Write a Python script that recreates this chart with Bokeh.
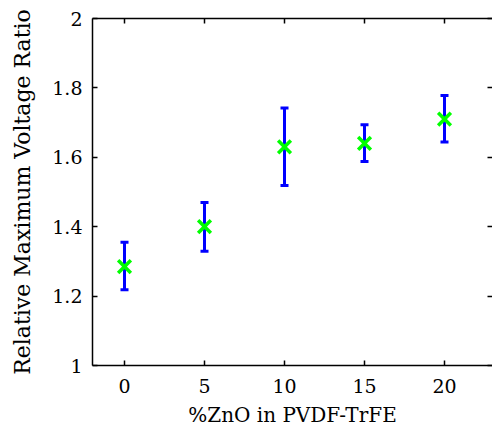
from bokeh.plotting import figure
from bokeh.models import ColumnDataSource, Whisker, TeeHead, LinearAxis, FixedTicker, Range1d
from bokeh.embed import file_html
from bokeh.resources import INLINE

# data
zno_pct = [0, 5, 10, 15, 20]
ratio = [1.285, 1.400, 1.630, 1.640, 1.710]
ratio_upper = [1.355, 1.470, 1.742, 1.694, 1.778]
ratio_lower = [1.218, 1.329, 1.519, 1.588, 1.644]
x_ticks = [0, 5, 10, 15, 20]
y_ticks = [1, 1.2, 1.4, 1.6, 1.8, 2]
y_tick_labels = {1: "1", 1.2: "1.2", 1.4: "1.4", 1.6: "1.6", 1.8: "1.8", 2: "2"}

FONT = "DejaVu Serif"

p = figure(width=492, height=429, output_backend="svg", toolbar_location=None,
           x_range=Range1d(-2, 23), y_range=Range1d(1, 2),
           min_border_left=92, min_border_right=0, min_border_top=18, min_border_bottom=64)
p.outline_line_color = None
p.grid.visible = False
p.background_fill_color = "white"
p.border_fill_color = "white"

src = ColumnDataSource(dict(x=zno_pct, y=ratio, upper=ratio_upper, lower=ratio_lower))

w = Whisker(base="x", upper="upper", lower="lower", source=src,
            line_color="#0000ff", line_width=3,
            upper_head=TeeHead(size=8, line_color="#0000ff", line_width=3),
            lower_head=TeeHead(size=8, line_color="#0000ff", line_width=3))
p.add_layout(w)
p.scatter("x", "y", source=src, marker="x", size=18, line_color="#00ff00", line_width=3.5)

def style(ax, labels=True):
    ax.axis_line_color = "black"
    ax.axis_line_width = 1.5
    ax.major_tick_in = 5
    ax.major_tick_out = 0
    ax.major_tick_line_color = "black"
    ax.major_tick_line_width = 1.5
    ax.minor_tick_line_color = None
    ax.major_label_text_font = FONT
    ax.major_label_text_font_size = "19px"
    ax.major_label_text_color = "black"
    ax.axis_label_text_font = FONT
    ax.axis_label_text_font_style = "normal"
    ax.axis_label_text_color = "black"
    if not labels:
        ax.major_label_standoff = 0

p.xaxis.ticker = FixedTicker(ticks=x_ticks)
p.yaxis.ticker = FixedTicker(ticks=y_ticks)
p.yaxis.major_label_overrides = y_tick_labels
style(p.xaxis[0])
style(p.yaxis[0])
p.xaxis.axis_label = "%ZnO in PVDF-TrFE"
p.xaxis.axis_label_text_font_size = "20px"
p.xaxis.major_label_standoff = 13
p.xaxis.axis_label_standoff = 7
p.yaxis.axis_label = "Relative Maximum Voltage Ratio"
p.yaxis.axis_label_text_font_size = "22px"
p.yaxis.major_label_standoff = 10
p.yaxis.axis_label_standoff = 14

top = LinearAxis(ticker=FixedTicker(ticks=x_ticks),
                 major_label_overrides={t: "" for t in x_ticks})
style(top, labels=False)
p.add_layout(top, "above")
right = LinearAxis(ticker=FixedTicker(ticks=y_ticks),
                   major_label_overrides={t: "" for t in y_ticks})
style(right, labels=False)
right.axis_line_color = None
p.add_layout(right, "right")

open("out.html", "w").write(file_html(p, INLINE))
